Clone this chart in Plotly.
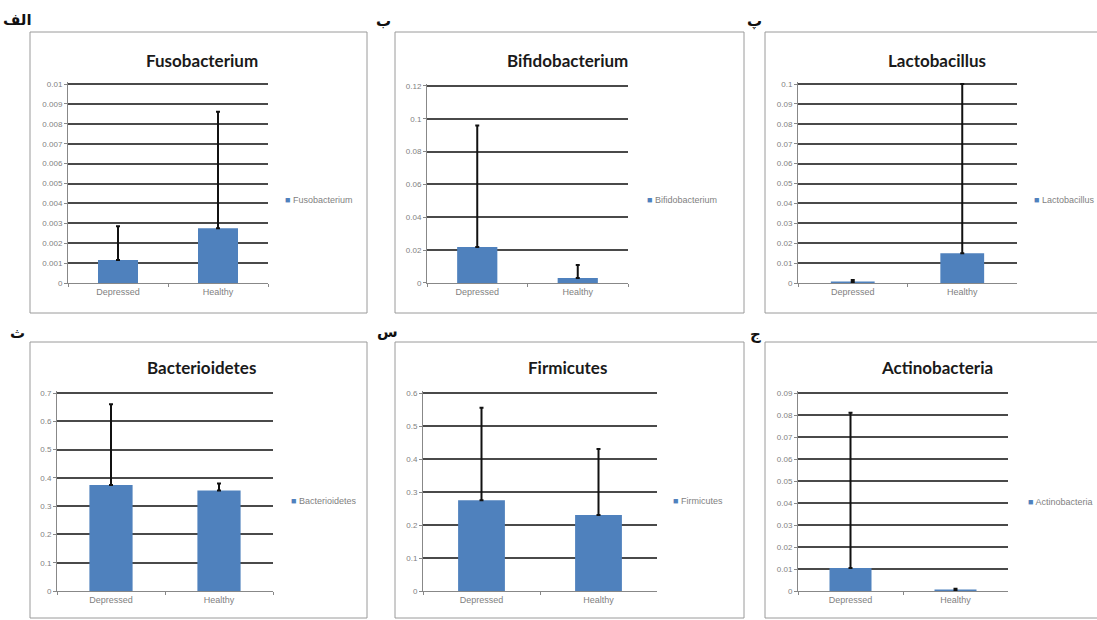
import plotly.graph_objects as go

W, H = 1097, 620

categories = ["Depressed", "Healthy"]
names = ["Fusobacterium", "Bifidobacterium", "Lactobacillus",
         "Bacterioidetes", "Firmicutes", "Actinobacteria"]
letters = ["الف", "ب", "پ", "ث", "س", "ج"]

fuso_vals = [0.00115, 0.00275]
fuso_err = [0.0017, 0.00585]
bifido_vals = [0.022, 0.003]
bifido_err = [0.074, 0.008]
lacto_vals = [0.0005, 0.015]
lacto_err = [0.001, 0.085]
bacter_vals = [0.375, 0.355]
bacter_err = [0.285, 0.025]
firmi_vals = [0.275, 0.23]
firmi_err = [0.28, 0.2]
actino_vals = [0.0105, 0.0002]
actino_err = [0.0705, 0.0008]

y_max = [0.01, 0.12, 0.1, 0.7, 0.6, 0.09]
y_dtick = [0.001, 0.02, 0.01, 0.1, 0.1, 0.01]

values = [fuso_vals, bifido_vals, lacto_vals, bacter_vals, firmi_vals, actino_vals]
errors = [fuso_err, bifido_err, lacto_err, bacter_err, firmi_err, actino_err]

# layout in pixels
plot_x = [(68, 268), (427, 628), (798, 1017), (57, 273), (423, 657), (798, 1008)]
plot_y = [(84, 283), (86, 283), (84, 283), (393, 591), (393, 591), (393, 591)]
boxes = [(30, 32, 367, 313), (395, 32, 744, 313), (765, 32, 1105, 313),
         (30, 342, 367, 618), (395, 342, 744, 618), (765, 342, 1105, 618)]
title_pos = [(202, 60), (567, 60), (937, 60), (201, 367), (567, 367), (937, 367)]
legend_pos = [(283, 200), (645, 200), (1032, 200), (289, 501), (671, 501), (1026, 502)]
letter_pos = [(17, 20), (383, 21), (754, 21), (17, 333), (387, 332), (755, 334)]

BAR = "#4f81bd"
GRID = "#4a4a4a"
TXT = "#7f7f7f"
PAD = 1.012  # headroom so the top gridline is drawn

fig = go.Figure()
layout = dict(width=W, height=H, margin=dict(l=0, r=0, t=0, b=0, pad=0),
              autosize=False,
              paper_bgcolor="white", plot_bgcolor="white", bargap=0.6,
              showlegend=False)
shapes, annotations = [], []


def px_x(v):
    return v / W


def px_y(v):
    return 1 - v / H


for i in range(6):
    sx = "" if i == 0 else str(i + 1)
    fig.add_trace(go.Bar(
        x=categories, y=values[i], name=names[i],
        marker=dict(color=BAR, line=dict(width=0)),
        error_y=dict(type="data", symmetric=False, array=errors[i],
                     arrayminus=[0, 0], color="#111111", thickness=2, width=2),
        xaxis="x" + sx, yaxis="y" + sx))
    x0, x1 = plot_x[i]
    y0, y1 = plot_y[i]
    top = y1 - (y1 - y0) * PAD
    layout["xaxis" + sx] = dict(
        domain=[px_x(x0), px_x(x1)], anchor="y" + sx, type="category",
        automargin=False,
        showline=True, linecolor="#888888", linewidth=1,
        ticks="outside", ticklen=3, tickcolor="#888888", tickson="boundaries",
        tickfont=dict(size=9, color=TXT, family="Liberation Sans"),
        showgrid=False, fixedrange=True)
    layout["yaxis" + sx] = dict(
        domain=[px_y(y1), px_y(top)], anchor="x" + sx,
        automargin=False,
        range=[0, y_max[i] * PAD], dtick=y_dtick[i],
        showline=True, linecolor="#888888", linewidth=1,
        ticks="outside", ticklen=3, tickcolor="#888888",
        tickfont=dict(size=8, color=TXT, family="Liberation Sans"),
        showgrid=True, gridcolor=GRID, gridwidth=1.5,
        zeroline=False, fixedrange=True)
    lx, ly = legend_pos[i]
    annotations.append(dict(
        text=f"<span style='color:{BAR}'>■</span> " + names[i],
        x=px_x(lx), y=px_y(ly), xref="paper", yref="paper", showarrow=False,
        xanchor="left", yanchor="middle",
        font=dict(size=9, color=TXT, family="Liberation Sans")))
    bx0, by0, bx1, by1 = boxes[i]
    shapes.append(dict(type="rect", xref="paper", yref="paper",
                       x0=px_x(bx0), x1=px_x(bx1), y0=px_y(by1), y1=px_y(by0),
                       line=dict(color="#9a9a9a", width=1)))
    tx, ty = title_pos[i]
    annotations.append(dict(text="<b>" + names[i] + "</b>", x=px_x(tx), y=px_y(ty),
                            xref="paper", yref="paper", showarrow=False,
                            xanchor="center", yanchor="middle",
                            font=dict(size=17, color="#1a1a1a", family="Lato")))
    lx2, ly2 = letter_pos[i]
    annotations.append(dict(text="<b>" + letters[i] + "</b>", x=px_x(lx2), y=px_y(ly2),
                            xref="paper", yref="paper", showarrow=False,
                            xanchor="center", yanchor="middle",
                            font=dict(size=15, color="#111111", family="DejaVu Sans")))

layout["shapes"] = shapes
layout["annotations"] = annotations
fig.update_layout(**layout)
fig.write_html("out.html", config={"displayModeBar": False},
               post_script="document.body.style.margin='0';document.body.style.overflow='hidden';")
